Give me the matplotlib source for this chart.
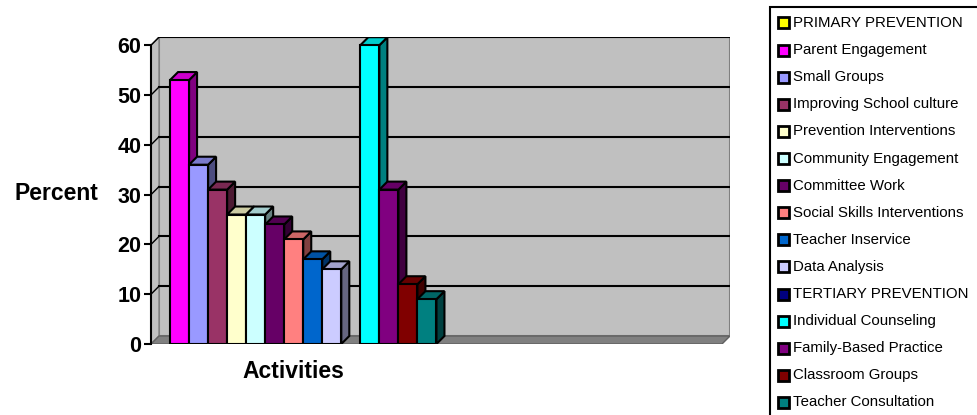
import matplotlib.pyplot as plt
from matplotlib.patches import Polygon, Rectangle
from matplotlib.colors import to_rgb

plt.rcParams['font.family'] = ['Liberation Sans', 'DejaVu Sans']

# 数据
series = ["PRIMARY PREVENTION", "Parent Engagement", "Small Groups",
          "Improving School culture", "Prevention Interventions",
          "Community Engagement", "Committee Work", "Social Skills Interventions",
          "Teacher Inservice", "Data Analysis", "TERTIARY PREVENTION",
          "Individual Counseling", "Family-Based Practice", "Classroom Groups",
          "Teacher Consultation"]
values = [0, 53, 36, 31, 26, 26, 24, 21, 17, 15, 0, 60, 31, 12, 9]
colors = ["#FFFF00", "#FF00FF", "#9999FF", "#993366", "#FFFFCC", "#CCFFFF",
          "#660066", "#FF8080", "#0066CC", "#CCCCFF", "#000080", "#00FFFF",
          "#800080", "#800000", "#008080"]
yticks = [0, 10, 20, 30, 40, 50, 60]

W, H = 977, 415
fig = plt.figure(figsize=(W / 100, H / 100), dpi=100)

# 绘图区 (像素)
x0, x1, ytop, ybot = 151, 730, 37, 344
ax = fig.add_axes([x0 / W, (H - ybot) / H, (x1 - x0) / W, (ybot - ytop) / H])
px_x = 19.03
px_y = 4.98
xmin = -0.5
xmax_front = xmin + 571 / px_x
ax.set_xlim(xmin, xmin + (x1 - x0) / px_x)
ax.set_ylim(0, (ybot - ytop) / px_y)
dx, dy = 8 / px_x, 8 / px_y

wall = "#C0C0C0"
# 背景墙
ax.add_patch(Rectangle((xmin + dx, dy), xmax_front - xmin, 60, facecolor=wall,
                       edgecolor="#808080", lw=1.5, zorder=1))
# 左墙
ax.add_patch(Polygon([(xmin, 0), (xmin + dx, dy), (xmin + dx, 60 + dy), (xmin, 60)],
                     facecolor=wall, edgecolor="#808080", lw=1, zorder=1))
# 底面
ax.add_patch(Polygon([(xmin, 0), (xmax_front, 0), (xmax_front + dx, dy), (xmin + dx, dy)],
                     facecolor="#808080", edgecolor="#606060", lw=1, zorder=1))
# 网格线
for v in yticks[1:]:
    ax.plot([xmin + dx, xmax_front + dx], [v + dy, v + dy], color="black", lw=1.5, zorder=2)
    ax.plot([xmin, xmin + dx], [v, v + dy], color="black", lw=1, zorder=2)

def shade(c, f):
    r, g, b = to_rgb(c)
    return (r * f, g * f, b * f)

bw = 1.0
for i, (v, c) in enumerate(zip(values, colors)):
    if v <= 0:
        continue
    l, r = i - bw / 2, i + bw / 2
    ax.add_patch(Polygon([(r, 0), (r + dx, dy), (r + dx, v + dy), (r, v)],
                         facecolor=shade(c, 0.5), edgecolor="black", lw=1.5, zorder=3))
    ax.add_patch(Polygon([(l, v), (l + dx, v + dy), (r + dx, v + dy), (r, v)],
                         facecolor=shade(c, 0.8), edgecolor="black", lw=1.5, zorder=3))
    ax.add_patch(Rectangle((l, 0), bw, v, facecolor=c, edgecolor="black", lw=1.5, zorder=4))

for s in ["top", "right", "bottom"]:
    ax.spines[s].set_visible(False)
ax.spines["left"].set_bounds(0, 60)
ax.spines["left"].set_linewidth(1.5)
ax.set_yticks(yticks)
ax.set_yticklabels([str(t) for t in yticks], fontsize=15.5, fontweight="bold")
ax.tick_params(axis="y", length=5, width=1.5, pad=2)
ax.set_xticks([])
ax.set_facecolor("none")
ax.set_ylabel("Percent", fontsize=16.5, fontweight="bold", rotation=0, va="center", ha="center")
ax.yaxis.set_label_coords(-0.164, 0.49)
ax.text(7, -5.5, "Activities", ha="center", va="center", fontsize=16.5, fontweight="bold")

# 图例
lg = fig.add_axes([0, 0, 1, 1])
lg.set_xlim(0, W)
lg.set_ylim(H, 0)
lg.axis("off")
lg.patch.set_alpha(0)
lg.add_patch(Rectangle((770, 7), 220, 420, facecolor="white", edgecolor="black", lw=1.5))
for i, (name, c) in enumerate(zip(series, colors)):
    y = 23 + i * 27.1
    lg.add_patch(Rectangle((777.5, y - 5.5), 11, 11, facecolor=c, edgecolor="black", lw=2))
    lg.text(793, y, name, fontsize=10.8, va="center", ha="left")

fig.savefig("out.png", dpi=100)
